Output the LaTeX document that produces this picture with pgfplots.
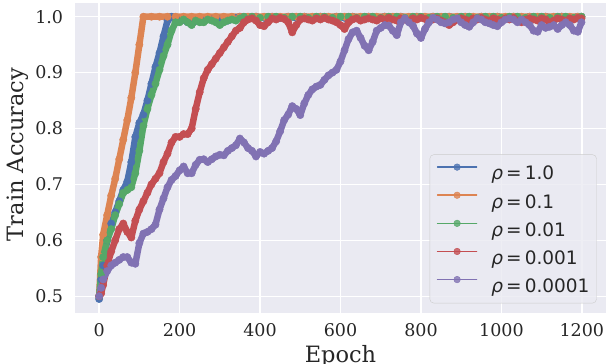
\documentclass[border=0pt]{standalone}
\usepackage{fontspec}
\setmainfont{DejaVu Serif}
\newfontfamily\sansf{DejaVu Sans}
\usepackage{pgfplots}
\pgfplotsset{compat=1.18}
\definecolor{bgc}{HTML}{EAEAF2}
\definecolor{txt}{HTML}{262626}
\definecolor{c1}{HTML}{4C72B0}
\definecolor{c2}{HTML}{DD8452}
\definecolor{c3}{HTML}{55A868}
\definecolor{c4}{HTML}{C44E52}
\definecolor{c5}{HTML}{8172B3}
\begin{document}
\begin{tikzpicture}
\begin{axis}[
  scale only axis, width=531pt, height=309.7pt,
  xmin=-60, xmax=1260, ymin=0.4705, ymax=1.0245,
  axis background/.style={fill=bgc},
  axis line style={draw=none},
  major tick length=0pt,
  grid=major, major grid style={white, line width=1.3pt},
  xtick={0,200,400,600,800,1000,1200},
  ytick={0.5,0.6,0.7,0.8,0.9,1.0},
  /pgf/number format/assume math mode=true,
  /pgf/number format/1000 sep={},
  yticklabel style={/pgf/number format/fixed, /pgf/number format/fixed zerofill, /pgf/number format/precision=1, anchor=east, inner sep=0pt, xshift=-11.7pt},
  xticklabel style={anchor=north, inner sep=0pt, yshift=-10.3pt},
  tick label style={font=\fontsize{17.5}{20}\selectfont, text=txt},
  xlabel={Epoch}, ylabel={Train Accuracy},
  xlabel style={at={(axis description cs:0.5,-0.1043)}, anchor=north, inner sep=0pt, font=\fontsize{22.5}{26}\selectfont, text=txt},
  ylabel style={at={(axis description cs:-0.1281,0.511)}, anchor=north, inner sep=0pt, rotate=0, font=\fontsize{22.5}{26}\selectfont, text=txt},
  legend cell align=left,
  legend style={at={(axis description cs:1,0)}, anchor=south east, xshift=-9.3pt, yshift=9.4pt,
    draw=black!20, fill=bgc, fill opacity=0.8, text opacity=1, rounded corners=4pt,
    font=\sansf\fontsize{18.5}{22}\selectfont, text=txt,
    inner xsep=7pt, inner ysep=9.2pt, row sep=10.5pt, nodes={inner sep=0pt},
    /tikz/every odd column/.append style={column sep=14pt}},
  legend image code/.code={\draw[#1, line width=1.5pt, mark=none] (0pt,6.7pt) -- (39pt,6.7pt); \draw[#1, line width=0.4pt, mark size=3.3pt] plot coordinates {(19.5pt,6.7pt)};},
  every axis plot/.append style={line width=6.5pt, line join=round, line cap=round, mark=*, mark size=3.7pt},
]
\addplot[color=c1, mark options={fill=c1, draw=c1, line width=0.4pt}] coordinates {
(0,0.495)(5,0.53)(10,0.555)(20,0.60)(30,0.63)(40,0.65)(50,0.67)(60,0.69)(70,0.705)(80,0.74)(90,0.785)(100,0.81)(110,0.825)(120,0.85)(130,0.88)(140,0.91)(150,0.935)(160,0.965)(170,0.993)(180,1.0)(190,0.997)(200,0.993)(210,0.995)(220,0.99)(230,0.988)(240,0.993)(250,0.995)(260,0.993)(270,0.997)(280,0.995)(290,0.998)(300,0.995)(310,0.997)(320,0.993)(330,0.996)(340,0.998)(350,1.0)(370,0.998)(390,1.0)(410,0.998)(430,1.0)(450,0.998)(470,1.0)(490,0.998)(510,1.0)(530,0.998)(550,1.0)(570,0.998)(590,1.0)(610,0.998)(630,1.0)(650,0.998)(670,1.0)(690,0.998)(710,1.0)(730,0.998)(750,1.0)(770,0.998)(790,1.0)(810,0.998)(830,1.0)(850,0.998)(870,1.0)(890,0.998)(910,1.0)(930,0.998)(950,1.0)(970,0.998)(990,1.0)(1010,0.998)(1030,1.0)(1050,0.998)(1070,1.0)(1090,0.998)(1110,1.0)(1130,0.998)(1150,1.0)(1170,0.998)(1190,1.0)(1199,1.0)
};
\addlegendentry{{\itshape ρ}\,=\,1.0}
\addplot[color=c2, mark options={fill=c2, draw=c2, line width=0.4pt}] coordinates {
(0,0.50)(5,0.57)(10,0.61)(20,0.645)(30,0.68)(40,0.71)(50,0.745)(60,0.78)(70,0.815)(80,0.855)(90,0.90)(100,0.95)(110,1.0)(130,1.0)(150,1.0)(170,1.0)(190,1.0)(210,1.0)(230,1.0)(250,1.0)(270,1.0)(290,1.0)(310,1.0)(330,1.0)(350,1.0)(370,1.0)(390,1.0)(410,1.0)(430,1.0)(450,1.0)(470,1.0)(490,1.0)(510,1.0)(530,1.0)(550,1.0)(570,1.0)(590,1.0)(610,1.0)(630,1.0)(650,1.0)(670,1.0)(690,1.0)(710,1.0)(730,1.0)(750,1.0)(770,1.0)(790,1.0)(810,1.0)(830,1.0)(850,1.0)(870,1.0)(890,1.0)(910,1.0)(930,1.0)(950,1.0)(970,1.0)(990,1.0)(1010,1.0)(1030,1.0)(1050,1.0)(1070,1.0)(1090,1.0)(1110,1.0)(1130,1.0)(1150,1.0)(1170,1.0)(1190,1.0)(1199,1.0)
};
\addlegendentry{{\itshape ρ}\,=\,0.1}
\addplot[color=c3, mark options={fill=c3, draw=c3, line width=0.4pt}] coordinates {
(0,0.50)(5,0.54)(10,0.57)(20,0.60)(30,0.62)(40,0.645)(50,0.665)(60,0.685)(70,0.69)(80,0.695)(90,0.72)(100,0.76)(110,0.805)(120,0.835)(130,0.86)(140,0.88)(150,0.905)(160,0.93)(170,0.95)(180,0.975)(190,0.99)(200,0.99)(210,0.995)(220,0.99)(230,0.985)(240,0.993)(250,0.99)(260,0.99)(270,0.995)(280,0.993)(290,0.99)(300,0.985)(310,0.99)(320,0.993)(330,0.995)(340,0.993)(350,0.997)(360,1.0)(380,1.0)(400,0.998)(420,1.0)(440,1.0)(460,0.998)(480,1.0)(500,1.0)(520,0.998)(540,1.0)(560,1.0)(580,0.998)(600,1.0)(620,1.0)(640,0.998)(660,1.0)(680,1.0)(700,0.998)(720,1.0)(740,1.0)(760,0.998)(780,1.0)(800,1.0)(820,0.998)(840,1.0)(860,1.0)(880,0.998)(900,1.0)(920,1.0)(940,0.998)(960,1.0)(980,1.0)(1000,0.998)(1020,1.0)(1040,1.0)(1060,0.998)(1080,1.0)(1100,1.0)(1120,0.998)(1140,1.0)(1160,1.0)(1180,0.998)(1199,1.0)
};
\addlegendentry{{\itshape ρ}\,=\,0.01}
\addplot[color=c4, mark options={fill=c4, draw=c4, line width=0.4pt}] coordinates {
(0,0.50)(5,0.505)(10,0.52)(20,0.555)(30,0.58)(40,0.60)(50,0.62)(60,0.63)(70,0.615)(80,0.605)(90,0.635)(100,0.655)(110,0.67)(120,0.685)(130,0.70)(140,0.71)(150,0.72)(160,0.74)(170,0.755)(180,0.775)(190,0.785)(200,0.785)(210,0.79)(220,0.79)(230,0.80)(240,0.835)(250,0.865)(260,0.89)(270,0.905)(280,0.915)(290,0.925)(300,0.935)(310,0.945)(320,0.955)(330,0.965)(340,0.975)(350,0.98)(360,0.99)(370,0.995)(380,0.997)(390,0.993)(400,0.985)(410,0.983)(420,0.99)(430,0.997)(440,0.995)(450,0.998)(460,0.996)(470,0.99)(480,0.972)(490,0.985)(500,0.995)(510,0.997)(520,0.995)(530,0.993)(540,0.997)(550,0.995)(560,0.998)(570,0.995)(580,0.993)(590,0.99)(600,0.985)(610,0.978)(620,0.99)(630,0.995)(640,0.997)(650,0.993)(660,0.995)(670,0.997)(680,0.995)(690,0.993)(700,0.997)(710,0.995)(720,0.998)(730,0.995)(740,0.993)(750,0.997)(760,0.995)(770,0.993)(780,0.997)(790,0.995)(800,0.998)(810,0.996)(820,0.993)(830,0.995)(840,0.997)(850,0.993)(860,0.99)(870,0.985)(880,0.99)(890,0.995)(900,0.997)(910,0.995)(920,0.993)(930,0.997)(940,0.995)(950,0.998)(960,0.995)(970,0.993)(980,0.997)(990,0.995)(1000,0.993)(1010,0.997)(1020,0.995)(1030,0.998)(1040,0.993)(1050,0.99)(1060,0.995)(1070,0.997)(1080,0.995)(1090,0.993)(1100,0.997)(1110,0.995)(1120,0.99)(1130,0.993)(1140,0.997)(1150,0.995)(1160,0.993)(1170,0.997)(1180,0.995)(1190,0.998)(1199,0.997)
};
\addlegendentry{{\itshape ρ}\,=\,0.001}
\addplot[color=c5, mark options={fill=c5, draw=c5, line width=0.4pt}] coordinates {
(0,0.50)(5,0.515)(10,0.53)(20,0.545)(30,0.555)(40,0.56)(50,0.565)(60,0.57)(70,0.57)(80,0.56)(90,0.558)(100,0.595)(110,0.612)(120,0.615)(130,0.62)(140,0.628)(150,0.655)(160,0.675)(170,0.695)(180,0.708)(190,0.715)(200,0.725)(210,0.732)(220,0.72)(230,0.72)(240,0.735)(250,0.744)(260,0.745)(270,0.74)(280,0.745)(290,0.75)(300,0.753)(310,0.752)(320,0.76)(330,0.765)(340,0.77)(350,0.782)(360,0.775)(370,0.765)(380,0.76)(390,0.75)(400,0.758)(410,0.755)(420,0.76)(430,0.765)(440,0.777)(450,0.795)(460,0.815)(470,0.825)(480,0.84)(490,0.835)(500,0.824)(510,0.845)(520,0.86)(530,0.87)(540,0.875)(550,0.878)(560,0.887)(570,0.895)(580,0.9)(590,0.905)(600,0.92)(610,0.94)(620,0.96)(630,0.972)(640,0.975)(650,0.962)(660,0.948)(670,0.94)(680,0.955)(690,0.975)(700,0.98)(710,0.985)(720,0.984)(730,0.975)(740,0.967)(750,0.99)(760,0.997)(770,0.99)(780,0.984)(790,0.97)(800,0.962)(810,0.978)(820,0.99)(830,0.998)(840,0.995)(850,0.99)(860,0.988)(870,0.99)(880,0.995)(890,0.997)(900,0.99)(910,0.985)(920,0.982)(930,0.99)(940,0.997)(950,0.995)(960,0.99)(970,0.988)(980,0.985)(990,0.983)(1000,0.99)(1010,0.995)(1020,0.997)(1030,0.995)(1040,0.99)(1050,0.995)(1060,0.99)(1070,0.985)(1080,0.975)(1090,0.973)(1100,0.985)(1110,0.98)(1120,0.982)(1130,0.985)(1140,0.978)(1150,0.985)(1160,0.99)(1170,0.985)(1180,0.975)(1190,0.973)(1199,0.99)
};
\addlegendentry{{\itshape ρ}\,=\,0.0001}
\end{axis}
\pgfresetboundingbox
\path[use as bounding box] ([shift={(-75pt,-51.3pt)}]current axis.south west) rectangle ([shift={(0pt,3pt)}]current axis.north east);
\end{tikzpicture}
\end{document}
